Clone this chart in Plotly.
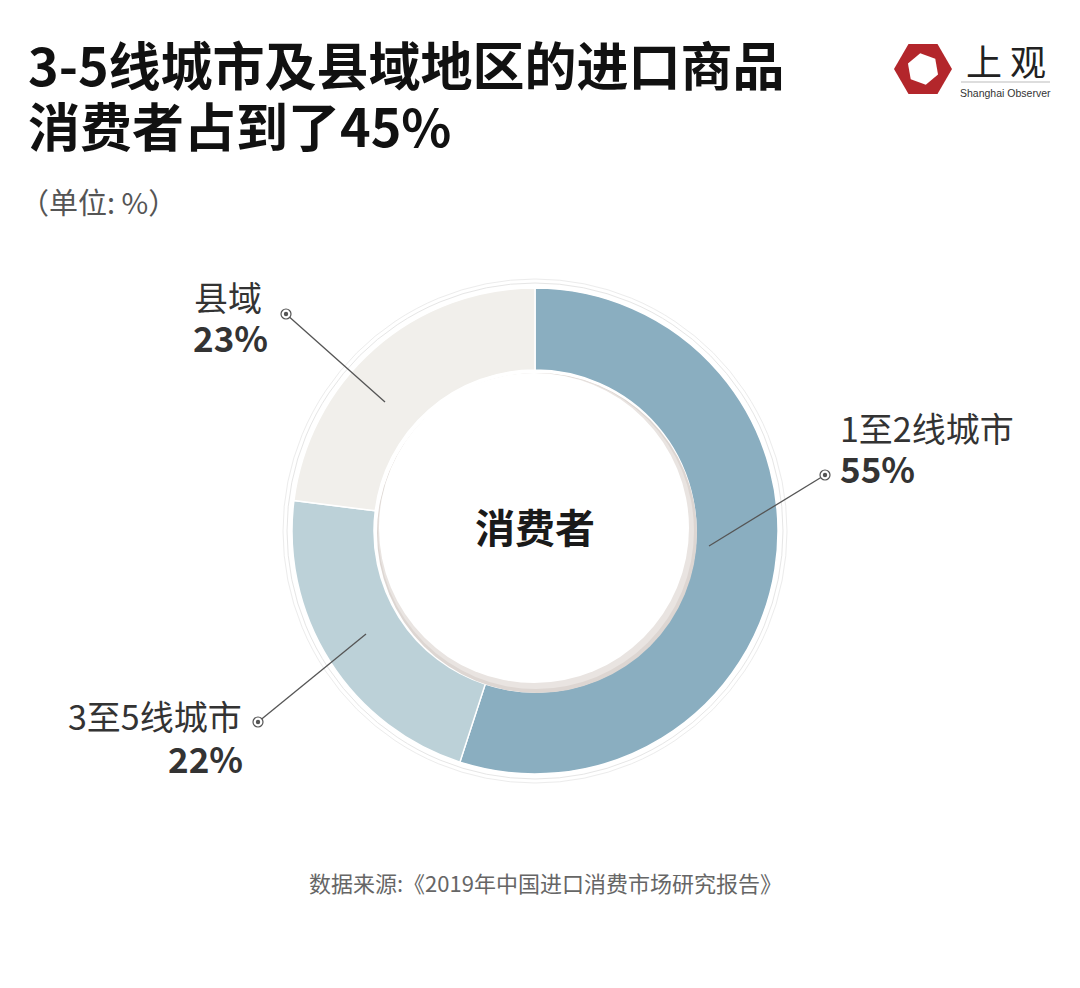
import plotly.graph_objects as go
import math

W, H = 1080, 988
OFF = 8  # page body margin

categories = ["1至2线城市", "3至5线城市", "县域"]
values = [55, 22, 23]
colors = ["#8aaec0", "#bcd1d8", "#f1efeb"]

title_lines = ["3-5线城市及县域地区的进口商品", "消费者占到了45%"]
unit_text = "（单位: %）"
center_text = "消费者"
source_text = "数据来源:《2019年中国进口消费市场研究报告》"

CJK = "Noto Sans CJK SC"

def X(px):
    return (px - OFF) / W

def Y(py):
    return 1 - (py - OFF) / H

cx, cy, R = 535, 531, 243
hole_r = 161

fig = go.Figure()
fig.add_trace(go.Pie(
    labels=categories, values=values, sort=False, direction="clockwise",
    rotation=0, hole=hole_r / R,
    marker=dict(colors=colors, line=dict(color="#ffffff", width=1.5)),
    textinfo="none", hoverinfo="label+percent", showlegend=False,
    domain=dict(x=[X(cx - R), X(cx + R)], y=[Y(cy + R), Y(cy - R)]),
))

shapes = []

def circle(x, y, r, fill=None, line=None, lw=1, layer="above"):
    d = dict(type="circle", xref="paper", yref="paper",
             x0=X(x - r), x1=X(x + r), y0=Y(y + r), y1=Y(y - r), layer=layer)
    d["fillcolor"] = fill if fill else "rgba(0,0,0,0)"
    d["line"] = dict(color=line if line else "rgba(0,0,0,0)", width=lw if line else 0)
    return d

# outer faint rings
shapes.append(circle(cx, cy, R + 5, line="#e6e6e6", lw=1, layer="below"))
shapes.append(circle(cx, cy, R + 9, line="#ececec", lw=1, layer="below"))

# inner shadow + white disk
shapes.append(circle(cx + 2, cy + 2, hole_r - 1, fill="#ddd6d2"))
shapes.append(circle(cx + 1, cy, hole_r - 3, fill="#e9e4e1"))
shapes.append(circle(cx - 1, cy - 3, hole_r - 6, fill="#ffffff"))

# leader lines + dots
leaders = [((709, 546), (825, 475)), ((366, 634), (258, 722)), ((385, 402), (286, 314))]
for (x0, y0), (x1, y1) in leaders:
    shapes.append(dict(type="line", xref="paper", yref="paper",
                       x0=X(x0), y0=Y(y0), x1=X(x1), y1=Y(y1),
                       line=dict(color="#555555", width=1.3)))
    shapes.append(circle(x1, y1, 5, fill="#ffffff", line="#555555", lw=1.2))
    shapes.append(circle(x1, y1, 2.2, fill="#555555"))

# logo hexagon
lx, ly, lr = 923, 69, 29
pts = [(lx + lr * math.cos(math.radians(a)), ly + lr * math.sin(math.radians(a))) for a in range(0, 360, 60)]
path = "M " + " L ".join(f"{X(px):.5f},{Y(py):.5f}" for px, py in pts) + " Z"
shapes.append(dict(type="path", xref="paper", yref="paper", path=path,
                   fillcolor="#b3262b", line=dict(width=0)))
ir = 16
pts2 = [(lx + ir * math.cos(math.radians(a + 20)), ly + ir * math.sin(math.radians(a + 20))) for a in range(0, 360, 60)]
path2 = "M " + " L ".join(f"{X(px):.5f},{Y(py):.5f}" for px, py in pts2) + " Z"
shapes.append(dict(type="path", xref="paper", yref="paper", path=path2,
                   fillcolor="#ffffff", line=dict(width=0)))
shapes.append(dict(type="line", xref="paper", yref="paper",
                   x0=X(961), x1=X(1050), y0=Y(82), y1=Y(82),
                   line=dict(color="#bbbbbb", width=1)))

annotations = []

def ann(text, x, y, size, color="#333333", bold=False, xanchor="left", family=CJK):
    t = f"<b>{text}</b>" if bold else text
    annotations.append(dict(text=t, x=X(x), y=Y(y), xref="paper", yref="paper",
                            xanchor=xanchor, yanchor="middle", showarrow=False,
                            font=dict(family=family, size=size, color=color)))

ann(title_lines[0], 26, 64, 52, color="#111111", bold=True)
ann(title_lines[1], 26, 124, 52, color="#111111", bold=True)
ann(unit_text, 18, 201, 29, color="#555555")

ann(categories[2], 192, 296, 34, color="#333333")
ann(f"{values[2]}%", 191, 337, 35, color="#333333", bold=True)
ann(categories[0], 838, 427, 34, color="#333333")
ann(f"{values[0]}%", 838, 467, 35, color="#333333", bold=True)
ann(categories[1], 244, 715, 34, color="#333333", xanchor="right")
ann(f"{values[1]}%", 245, 757, 35, color="#333333", bold=True, xanchor="right")

ann(center_text, cx, 526, 40, color="#1a1a1a", bold=True, xanchor="center")
ann(source_text, 545, 882, 22, color="#666666", xanchor="center")

ann("上 观", 1006, 60, 36, color="#222222", xanchor="center")
ann("Shanghai Observer", 1005, 93, 10.5, color="#333333", xanchor="center", family="Liberation Sans")

fig.update_layout(
    width=W, height=H, margin=dict(l=0, r=0, t=0, b=0),
    paper_bgcolor="#ffffff", plot_bgcolor="#ffffff",
    shapes=shapes, annotations=annotations, showlegend=False,
)

fig.write_html("out.html")
